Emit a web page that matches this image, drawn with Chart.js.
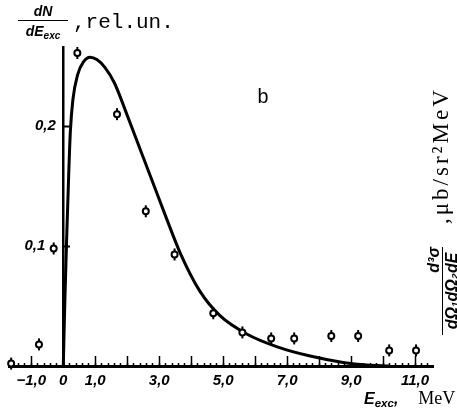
<!DOCTYPE html>
<html>
<head>
<meta charset="utf-8">
<script src="https://cdn.jsdelivr.net/npm/chart.js@4.4.1/dist/chart.umd.min.js"></script>
<style>
  html, body { margin: 0; padding: 0; background: #fff; overflow: hidden; }
  #wrap { position: relative; width: 457px; height: 415px; overflow: hidden; }
  canvas { position: absolute; left: 0; top: 0; }
  .lbl { position: absolute; white-space: nowrap; color: #000; line-height: 1; }
  .bi { font-family: 'Liberation Sans', Arial, sans-serif; font-weight: bold; font-style: italic; }
  .mono { font-family: 'Liberation Mono', 'Courier New', monospace; }
  .serif { font-family: 'Liberation Serif', 'Times New Roman', serif; }
  sub { font-size: 0.72em; vertical-align: -0.3em; line-height: 0; }
</style>
</head>
<body>
<div id="wrap">
  <canvas id="chart" width="457" height="415"></canvas>

  <!-- top-left: dN/dE_exc, rel.un. -->
  <div class="lbl bi" style="left:18px;top:4px;width:50px;text-align:center;font-size:14px">dN</div>
  <div class="lbl" style="left:18px;top:20px;width:50px;border-top:1.6px solid #000"></div>
  <div class="lbl bi" style="left:18px;top:24px;width:50px;text-align:center;font-size:14px">dE<sub>exc</sub></div>
  <div class="lbl mono" style="left:73px;top:12px;font-size:21px">,rel.un.</div>

  <div class="lbl mono" style="left:257px;top:88px;font-size:20px">b</div>

  <!-- right, rotated: d3σ/dΩdΩdE, μb/sr²MeV -->
  <div class="lbl serif" style="left:429px;top:224px;transform-origin:0 0;transform:rotate(-90deg);font-size:23px;letter-spacing:3px">,μb/sr²MeV</div>
  <div class="lbl bi" style="left:426px;top:335px;width:88px;transform-origin:0 0;transform:rotate(-90deg)">
    <div style="text-align:right;font-size:16px;height:16px">d³σ</div>
    <div style="border-top:1.6px solid #000;text-align:center;font-size:16px;padding-top:1px">dΩ₁dΩ₂dE</div>
  </div>

  <!-- bottom-right: E_exc, MeV -->
  <div class="lbl serif" style="left:364px;top:389px;font-size:18px"><span class="bi" style="font-size:16px">E<sub>exc</sub>,</span><span style="margin-left:20px">MeV</span></div>
</div>

<script>
/* ── Data ── */
// experimental points (E_exc, MeV / rel. units)
const expX = [-1.63, -0.76, -0.3, 0.44, 1.68, 2.58, 3.48, 4.69, 5.6, 6.5, 7.22, 8.38, 9.22, 10.19, 11.03];
const expY = [0.002, 0.018, 0.098, 0.261, 0.21, 0.129, 0.093, 0.044, 0.028, 0.023, 0.023, 0.025, 0.025, 0.013, 0.013];

// calculated curve
const theoryX = [0, 0.05, 0.11, 0.17, 0.22, 0.3, 0.45, 0.63, 0.84, 1.05, 1.3, 1.6, 2.0, 2.4, 2.8, 3.2, 3.66, 4.28, 4.9, 5.75, 6.69, 7.72, 8.75, 9.5, 10.2];
const theoryY = [0, 0.055, 0.11, 0.16, 0.195, 0.222, 0.243, 0.2535, 0.2575, 0.2555, 0.249, 0.236, 0.209, 0.181, 0.153, 0.125, 0.094, 0.062, 0.042, 0.0265, 0.016, 0.0083, 0.003, 0.0008, 0];

// axes
const xMajorTicks = [-1, 0, 1, 2, 3, 4, 5, 6, 7, 8, 9, 10, 11];
const xTickLabels = ['\u22121,0', '0', '1,0', '', '3,0', '', '5,0', '', '7,0', '', '9,0', '', '11,0'];
const yTickValues = [0.1, 0.2];
const yTickLabels = ['0,1', '0,2'];

const X_MIN = -1.68, X_MAX = 11.56;
const Y_MIN = 0, Y_MAX = 0.266;

// minor ticks every 0.2 MeV
const xMinorTicks = [];
for (let i = -8; i <= 57; i++) xMinorTicks.push(+(i * 0.2).toFixed(1));

const tickFont = {
  family: "'Liberation Sans Narrow', 'Liberation Sans', sans-serif",
  size: 15, style: 'italic', weight: 'bold',
};

const pts = (xs, ys) => xs.map((x, i) => ({ x, y: ys[i] }));

new Chart(document.getElementById('chart'), {
  data: {
    datasets: [
      {
        type: 'scatter', data: pts(expX, expY),
        pointStyle: 'circle', pointRadius: 3, pointBorderWidth: 2,
        pointBackgroundColor: '#fff', pointBorderColor: '#000',
        order: 1, clip: false,
      },
      {
        type: 'scatter', data: pts(expX, expY),
        pointStyle: 'line', rotation: 90, pointRadius: 6, pointBorderWidth: 2,
        pointBorderColor: '#000',
        order: 2, clip: false,
      },
      {
        type: 'line', data: pts(theoryX, theoryY),
        borderColor: '#000', borderWidth: 3, pointRadius: 0,
        cubicInterpolationMode: 'monotone', fill: false,
        order: 3, clip: false,
      },
    ],
  },
  options: {
    responsive: false,
    animation: false,
    devicePixelRatio: 1,
    layout: { padding: { left: 9, right: 24, top: 47, bottom: 49 } },
    plugins: { legend: { display: false }, tooltip: { enabled: false } },
    scales: {
      x: {
        type: 'linear', position: { y: 0 }, min: X_MIN, max: X_MAX,
        afterBuildTicks: s => { s.ticks = xMinorTicks.map(v => ({ value: v })); },
        ticks: { display: false },
        grid: { drawOnChartArea: false, tickLength: -5, tickWidth: 1.5, tickColor: '#000' },
        border: { color: '#000', width: 3 },
      },
      x2: {
        type: 'linear', position: { y: 0 }, min: X_MIN, max: X_MAX,
        afterBuildTicks: s => { s.ticks = xMajorTicks.map(v => ({ value: v })); },
        ticks: {
          autoSkip: false, maxRotation: 0, padding: 16, color: '#000', font: tickFont,
          callback: (v, i) => xTickLabels[i],
        },
        grid: { drawOnChartArea: false, tickLength: -10, tickWidth: 1.5, tickColor: '#000' },
        border: { display: false },
      },
      y: {
        type: 'linear', position: { x: 0 }, min: Y_MIN, max: Y_MAX,
        afterBuildTicks: s => { s.ticks = yTickValues.map(v => ({ value: v })); },
        ticks: {
          color: '#000', font: tickFont,
          // the 0,1 label sits further left, clear of the point beside it
          callback: (v, i) => yTickLabels[i] + (i === 0 ? '\u2003\u2009' : '\u2002'),
        },
        grid: { drawOnChartArea: false, tickLength: -8, tickWidth: 2, tickColor: '#000' },
        border: { color: '#000', width: 2.5 },
      },
    },
  },
});
</script>
</body>
</html>
